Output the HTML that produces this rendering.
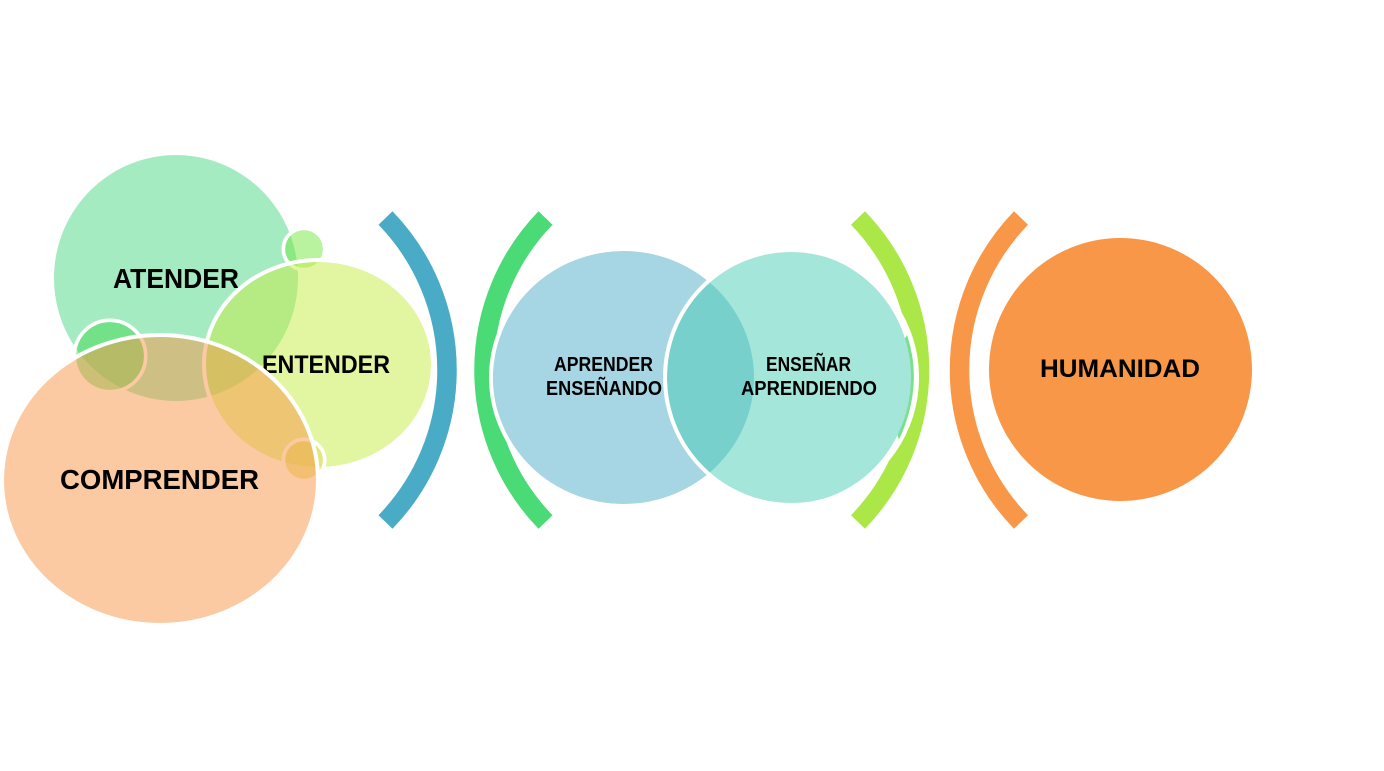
<!DOCTYPE html>
<html><head><meta charset="utf-8"><style>
html,body{margin:0;padding:0;background:#fff;width:1384px;height:771px;overflow:hidden}
svg{display:block}
text{font-family:"Liberation Sans",sans-serif;font-weight:bold;fill:#000}
</style></head><body>
<svg width="1384" height="771" viewBox="0 0 1384 771" xmlns="http://www.w3.org/2000/svg">
<defs>
<clipPath id="teal"><ellipse cx="789" cy="377.5" rx="122" ry="126.5"/></clipPath>
</defs>
<rect width="1384" height="771" fill="#fff"/>
<!-- left cluster -->
<ellipse cx="176" cy="278" rx="122" ry="123" fill="#4BD785" opacity=".5"/>
<text x="113" y="288" font-size="28" textLength="126" lengthAdjust="spacingAndGlyphs">ATENDER</text>
<circle cx="110" cy="356" r="34" fill="#3FD74E" opacity=".5"/>
<circle cx="110" cy="356" r="35.7" fill="none" stroke="#fff" stroke-width="3.6"/>
<circle cx="304" cy="249" r="19" fill="#73E73F" opacity=".5"/>
<circle cx="304" cy="249" r="20.7" fill="none" stroke="#fff" stroke-width="3.6"/>
<ellipse cx="318.5" cy="364.5" rx="112.5" ry="102.5" fill="#C5EB41" opacity=".5"/>
<ellipse cx="318.5" cy="364.5" rx="114.5" ry="104.5" fill="none" stroke="#fff" stroke-width="4"/>
<text x="262" y="373" font-size="25" textLength="128" lengthAdjust="spacingAndGlyphs">ENTENDER</text>
<circle cx="304" cy="460" r="19" fill="#E5DC60" opacity=".6"/>
<circle cx="304" cy="460" r="20.7" fill="none" stroke="#fff" stroke-width="3.6"/>
<ellipse cx="160" cy="480" rx="156" ry="143" fill="#F79546" opacity=".5"/>
<path d="M2 480A158 145 0 0 1 318 480" fill="none" stroke="#fff" stroke-width="4"/>
<text x="60" y="489" font-size="28" textLength="199" lengthAdjust="spacingAndGlyphs">COMPRENDER</text>
<!-- brackets -->
<g fill="none" stroke-width="19.5">
<path d="M385.5 218A218.6 218.6 0 0 1 385.5 522" stroke="#4AABC6"/>
<path d="M545.5 218A218.6 218.6 0 0 0 545.5 522" stroke="#4ADA76"/>
<path d="M858 218A218.6 218.6 0 0 1 858 522" stroke="#ABE847"/>
<path d="M1021 218A218.6 218.6 0 0 0 1021 522" stroke="#F89748"/>
</g>
<!-- middle circles -->
<ellipse cx="623.5" cy="377.5" rx="130.5" ry="126.5" fill="#A6D5E4"/>
<path d="M623.5 249A132.5 128.5 0 0 0 623.5 506" fill="none" stroke="#fff" stroke-width="4"/>
<ellipse cx="791" cy="377.5" rx="126" ry="127.5" fill="#fff"/>
<path d="M907 335Q924 385 899 440L880 380Z" fill="#7BDF8B"/>
<ellipse cx="789" cy="377.5" rx="122" ry="126.5" fill="#A5E6DB"/>
<ellipse cx="623.5" cy="377.5" rx="130.5" ry="126.5" fill="#78D0CC" clip-path="url(#teal)"/>
<ellipse cx="791" cy="377.5" rx="126" ry="127.5" fill="none" stroke="#fff" stroke-width="4"/>
<text x="554" y="371" font-size="20" textLength="99" lengthAdjust="spacingAndGlyphs">APRENDER</text>
<text x="546" y="395" font-size="20" textLength="116" lengthAdjust="spacingAndGlyphs">ENSEÑANDO</text>
<text x="766" y="371" font-size="20" textLength="85" lengthAdjust="spacingAndGlyphs">ENSEÑAR</text>
<text x="741" y="395" font-size="20" textLength="136" lengthAdjust="spacingAndGlyphs">APRENDIENDO</text>
<!-- right -->
<circle cx="1120.5" cy="369.5" r="131.5" fill="#F89748"/>
<text x="1040" y="377" font-size="25" textLength="160" lengthAdjust="spacingAndGlyphs">HUMANIDAD</text>
</svg>
</body></html>
